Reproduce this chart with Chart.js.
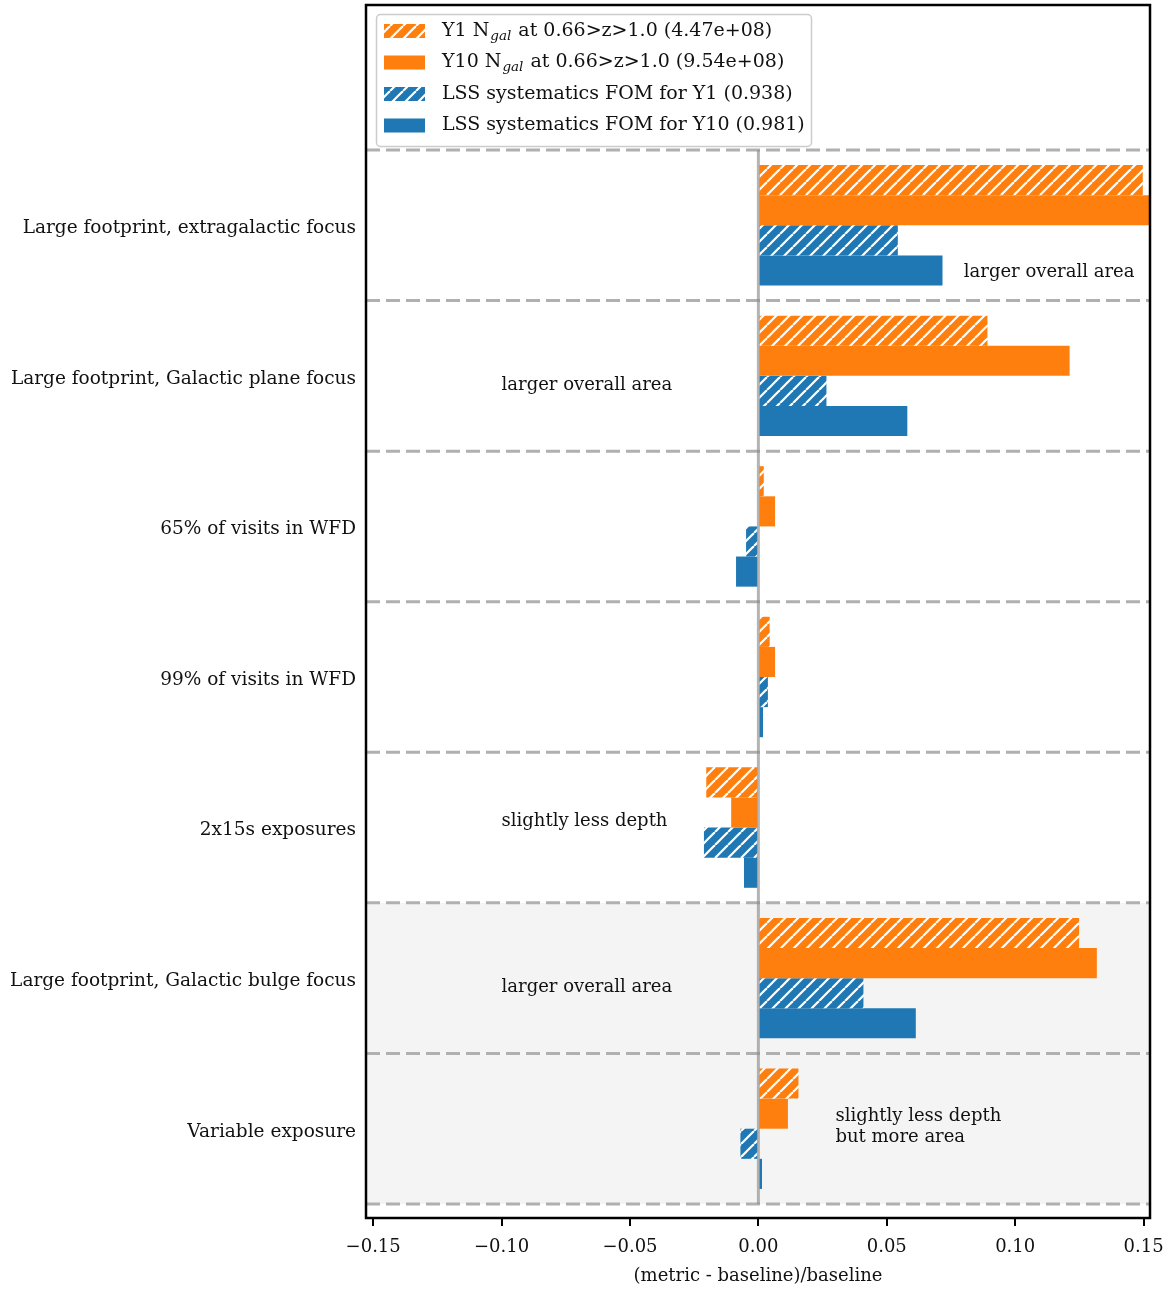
<!DOCTYPE html>
<html>
<head>
<meta charset="utf-8">
<script src="https://cdn.jsdelivr.net/npm/chart.js@4.4.1/dist/chart.umd.min.js"></script>
<style>
  html, body { margin: 0; padding: 0; background: #fff; }
  #wrap { width: 1171px; height: 1290px; }
</style>
</head>
<body>
<div id="wrap"><canvas id="chart"></canvas></div>
<script>
// data
const categories = [
  "Large footprint, extragalactic focus",
  "Large footprint, Galactic plane focus",
  "65% of visits in WFD",
  "99% of visits in WFD",
  "2x15s exposures",
  "Large footprint, Galactic bulge focus",
  "Variable exposure",
];
const y1Ngal = [0.1497, 0.0892, 0.0021, 0.0044, -0.0203, 0.1249, 0.0156];
const y10Ngal = [0.165, 0.1212, 0.0065, 0.0065, -0.0106, 0.1318, 0.0115];
const lssY1 = [0.0543, 0.0265, -0.0048, 0.0037, -0.0212, 0.0409, -0.007];
const lssY10 = [0.0717, 0.058, -0.0087, 0.0018, -0.0056, 0.0613, 0.0014];
const seriesLabels = [
  "Y1 N_{gal} at 0.66>z>1.0 (4.47e+08)",
  "Y10 N_{gal} at 0.66>z>1.0 (9.54e+08)",
  "LSS systematics FOM for Y1 (0.938)",
  "LSS systematics FOM for Y10 (0.981)",
];
const xTicks = [-0.15, -0.1, -0.05, 0, 0.05, 0.1, 0.15];
const shadedRows = [5, 6];
const notes = [
  { lines: ["larger overall area"], x: 0.08, y: 0.31 },
  { lines: ["larger overall area"], x: -0.1, y: 1.065 },
  { lines: ["slightly less depth"], x: -0.1, y: 3.96 },
  { lines: ["larger overall area"], x: -0.1, y: 5.063 },
  { lines: ["slightly less depth", "but more area"], x: 0.03, y: 5.92 },
];

const ORANGE = "#ff7f0e";
const BLUE = "#1f77b4";
const FONT = "'DejaVu Serif', serif";

//helper functions
const makeHatch = (color) => {
  const s = 13;
  const c = document.createElement("canvas");
  c.width = s;
  c.height = s;
  const g = c.getContext("2d");
  g.fillStyle = color;
  g.fillRect(0, 0, s, s);
  g.strokeStyle = "#fff";
  g.lineWidth = 2.2;
  [-1, 0, 1].forEach((k) => {
    g.beginPath();
    g.moveTo(k * s, s);
    g.lineTo(k * s + s, 0);
    g.stroke();
  });
  return g.createPattern(c, "repeat");
};

const toPoints = (values) => values.map((v, i) => ({ x: v, y: i }));

const fmtTick = (v) => {
  const s = Math.abs(v).toFixed(2);
  return v < -1e-9 ? "\u2212" + s : s;
};

const drawRich = (ctx, text, x, y) => {
  // handles N_{gal} style subscripts
  const parts = text.split(/_\{(.*?)\}/);
  let cx = x;
  parts.forEach((p, i) => {
    if (i % 2 === 1) {
      ctx.font = `italic 13.5px ${FONT}`;
      ctx.fillText(p, cx + 1, y + 5);
      cx += 2;
    } else {
      ctx.font = `19px ${FONT}`;
      ctx.fillText(p, cx, y);
    }
    cx += ctx.measureText(p).width;
  });
};

const decorPlugin = {
  id: "decor",
  beforeDatasetsDraw(chart) {
    const { ctx, chartArea: a, scales } = chart;
    const y = scales.y;
    ctx.save();
    ctx.fillStyle = "#f4f4f4";
    shadedRows.forEach((i) => {
      const t = y.getPixelForValue(i - 0.5);
      const b = y.getPixelForValue(i + 0.5);
      ctx.fillRect(a.left, t, a.right - a.left, b - t);
    });
    ctx.strokeStyle = "#b0b0b0";
    ctx.lineWidth = 3;
    ctx.setLineDash([14, 6]);
    for (let i = 0; i <= categories.length; i++) {
      const py = y.getPixelForValue(i - 0.5);
      ctx.beginPath();
      ctx.moveTo(a.left, py);
      ctx.lineTo(a.right, py);
      ctx.stroke();
    }
    ctx.restore();
  },
  afterDatasetsDraw(chart) {
    const { ctx, chartArea: a, scales } = chart;
    const { x, y } = scales;
    ctx.save();
    // zero line
    const zx = x.getPixelForValue(0);
    ctx.strokeStyle = "rgba(140,140,140,0.65)";
    ctx.lineWidth = 3;
    ctx.beginPath();
    ctx.moveTo(zx, y.getPixelForValue(-0.5));
    ctx.lineTo(zx, y.getPixelForValue(categories.length - 0.5));
    ctx.stroke();
    // notes
    ctx.fillStyle = "#111";
    ctx.font = `18px ${FONT}`;
    ctx.textAlign = "left";
    ctx.textBaseline = "middle";
    notes.forEach((n) => {
      n.lines.forEach((line, k) => {
        ctx.fillText(line, x.getPixelForValue(n.x), y.getPixelForValue(n.y) + k * 21);
      });
    });
    // frame
    ctx.strokeStyle = "#000";
    ctx.lineWidth = 2.5;
    ctx.strokeRect(a.left, a.top, a.right - a.left, a.bottom - a.top);
    ctx.restore();
  },
  afterDraw(chart) {
    const { ctx } = chart;
    const ds = chart.data.datasets;
    ctx.save();
    ctx.beginPath();
    ctx.roundRect(376.5, 14.5, 435, 132, 4);
    ctx.fillStyle = "rgba(255,255,255,0.85)";
    ctx.fill();
    ctx.strokeStyle = "#cccccc";
    ctx.lineWidth = 1.5;
    ctx.stroke();
    ctx.textBaseline = "middle";
    ctx.textAlign = "left";
    ds.forEach((d, i) => {
      const ry = 31 + i * 31.5;
      ctx.fillStyle = d.backgroundColor;
      ctx.fillRect(384, ry - 7, 41, 14);
      ctx.fillStyle = "#111";
      drawRich(ctx, d.label, 442, ry);
    });
    ctx.restore();
  },
};

Chart.defaults.font.family = FONT;
Chart.defaults.font.size = 18;
Chart.defaults.color = "#111";

const seriesValues = [y1Ngal, y10Ngal, lssY1, lssY10];
const seriesColors = [makeHatch(ORANGE), ORANGE, makeHatch(BLUE), BLUE];

const config = {
  type: "bar",
  data: {
    datasets: seriesValues.map((vals, i) => ({
      label: seriesLabels[i],
      data: toPoints(vals),
      backgroundColor: seriesColors[i],
      borderWidth: 0,
      categoryPercentage: 0.8,
      barPercentage: 1.0,
    })),
  },
  options: {
    indexAxis: "y",
    responsive: true,
    maintainAspectRatio: false,
    animation: false,
    layout: { padding: { left: 0, top: 5, right: 21, bottom: 0 } },
    plugins: {
      legend: { display: false },
      tooltip: { enabled: false },
    },
    scales: {
      x: {
        type: "linear",
        min: -0.1528,
        max: 0.1525,
        afterBuildTicks: (scale) => {
          scale.ticks = xTicks.map((v) => ({ value: v }));
        },
        afterFit: (scale) => {
          scale.height = 72;
          scale.paddingLeft = 0;
          scale.paddingRight = 0;
        },
        ticks: {
          callback: (v) => fmtTick(v),
          padding: 11,
          maxRotation: 0,
          autoSkip: false,
        },
        grid: {
          display: true,
          drawOnChartArea: false,
          drawTicks: true,
          tickLength: 8,
          color: "#000",
          lineWidth: 2,
        },
        border: { display: false },
        title: {
          display: true,
          text: "(metric - baseline)/baseline",
          padding: { top: 0, bottom: 3 },
        },
      },
      y: {
        type: "linear",
        reverse: true,
        offset: false,
        min: -1.463,
        max: 6.593,
        afterBuildTicks: (scale) => {
          scale.ticks = categories.map((c, i) => ({ value: i }));
        },
        afterFit: (scale) => {
          scale.width = 366;
          scale.paddingTop = 0;
          scale.paddingBottom = 0;
        },
        ticks: {
          callback: (v) => categories[v],
          padding: 10,
          labelOffset: 3,
          autoSkip: false,
          font: { size: 18.5 },
        },
        grid: { display: false, drawTicks: false, offset: false },
        border: { display: false },
      },
    },
  },
  plugins: [decorPlugin],
};

new Chart(document.getElementById("chart"), config);
</script>
</body>
</html>
